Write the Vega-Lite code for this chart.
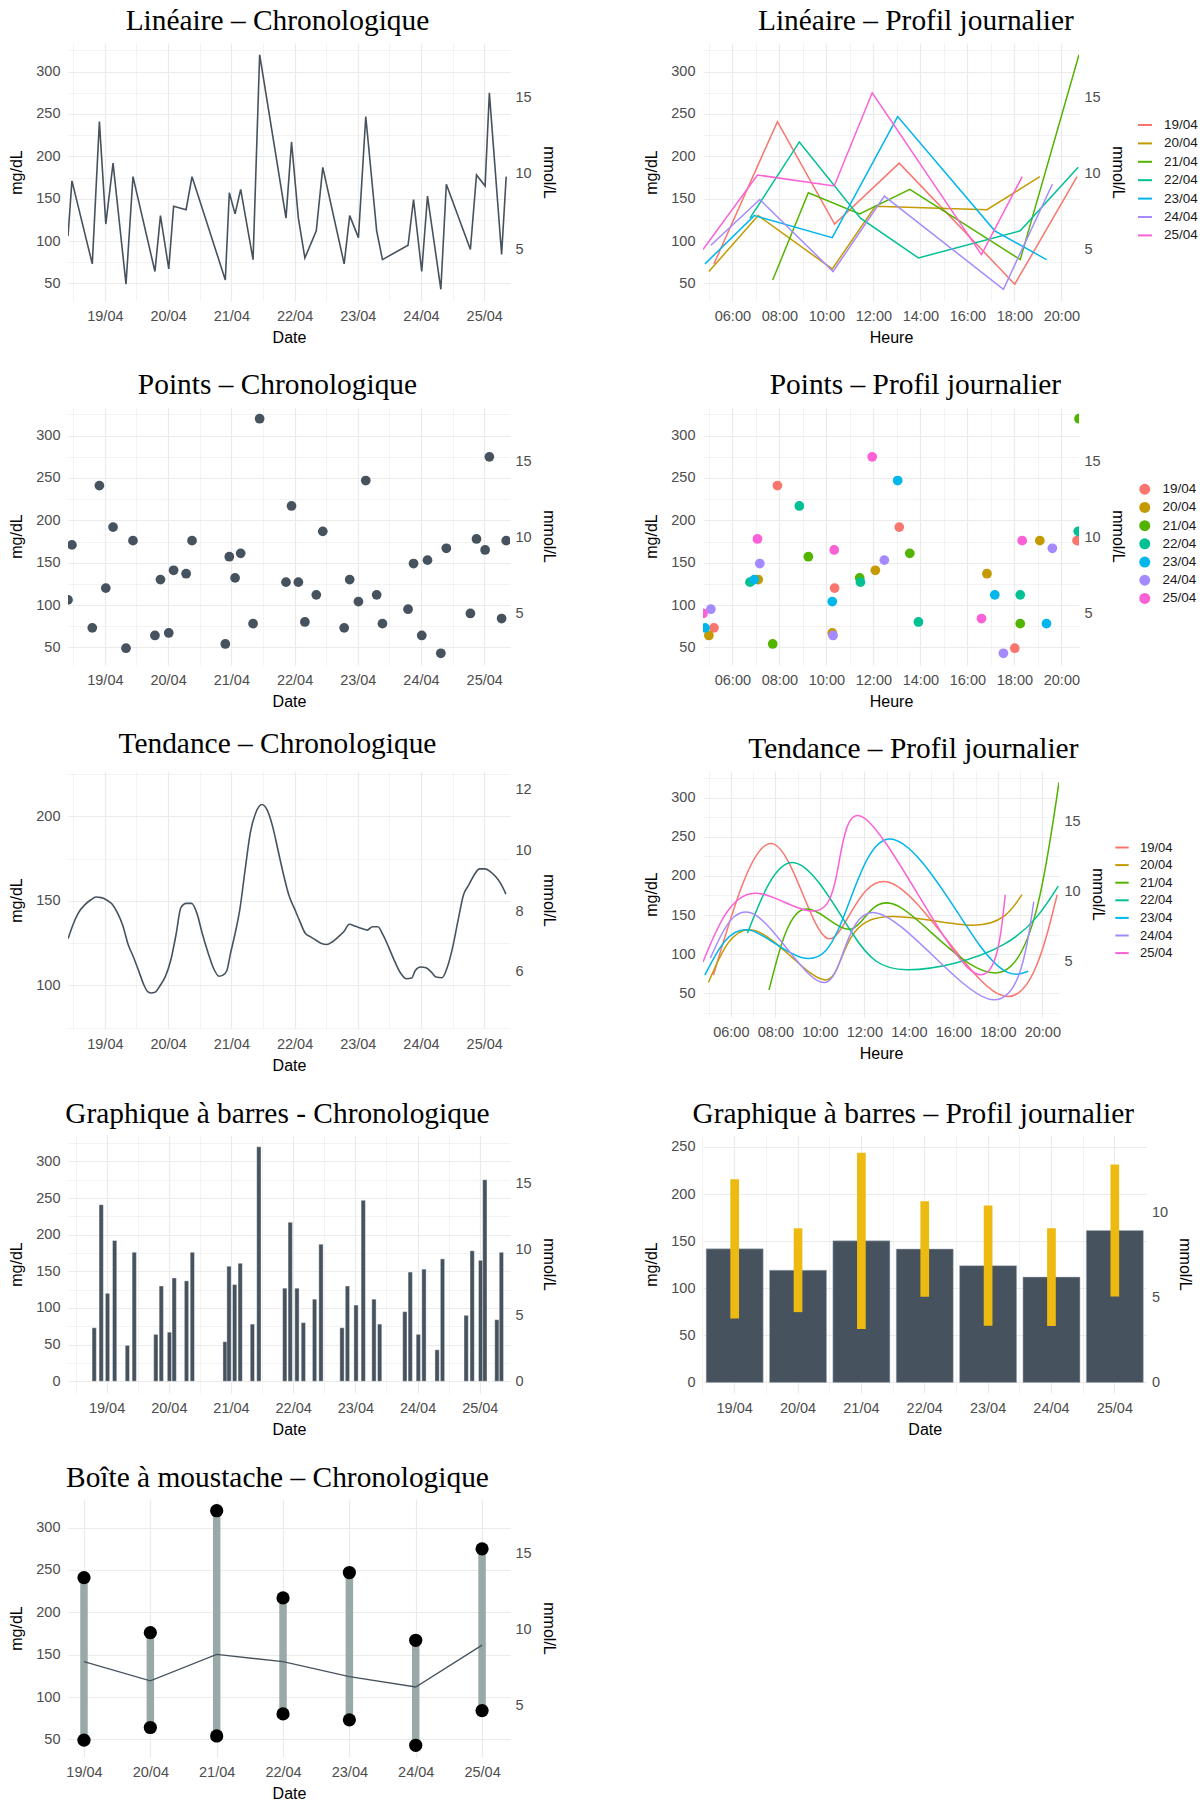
{
"$schema": "https://vega.github.io/schema/vega-lite/v6.json",
"background": "white",
"padding": {"left": 8, "top": 6, "right": 5, "bottom": 5},
"data": {"values": [
{"date":"2024-04-18T20:00:00+10:00","jour":"18/04","heure":"20:00","mgdl":106},
{"date":"2024-04-18T21:30:00+10:00","jour":"18/04","heure":"21:30","mgdl":171},
{"date":"2024-04-19T05:13:00+10:00","jour":"19/04","heure":"05:13","mgdl":73},
{"date":"2024-04-19T07:55:00+10:00","jour":"19/04","heure":"07:55","mgdl":241},
{"date":"2024-04-19T10:21:00+10:00","jour":"19/04","heure":"10:21","mgdl":120},
{"date":"2024-04-19T13:06:00+10:00","jour":"19/04","heure":"13:06","mgdl":192},
{"date":"2024-04-19T18:01:00+10:00","jour":"19/04","heure":"18:01","mgdl":49},
{"date":"2024-04-19T20:40:00+10:00","jour":"19/04","heure":"20:40","mgdl":176},
{"date":"2024-04-20T05:00:00+10:00","jour":"20/04","heure":"05:00","mgdl":64},
{"date":"2024-04-20T07:06:00+10:00","jour":"20/04","heure":"07:06","mgdl":130},
{"date":"2024-04-20T10:15:00+10:00","jour":"20/04","heure":"10:15","mgdl":67},
{"date":"2024-04-20T12:05:00+10:00","jour":"20/04","heure":"12:05","mgdl":141},
{"date":"2024-04-20T16:50:00+10:00","jour":"20/04","heure":"16:50","mgdl":137},
{"date":"2024-04-20T19:05:00+10:00","jour":"20/04","heure":"19:05","mgdl":176},
{"date":"2024-04-21T07:43:00+10:00","jour":"21/04","heure":"07:43","mgdl":54},
{"date":"2024-04-21T09:14:00+10:00","jour":"21/04","heure":"09:14","mgdl":157},
{"date":"2024-04-21T11:25:00+10:00","jour":"21/04","heure":"11:25","mgdl":132},
{"date":"2024-04-21T13:33:00+10:00","jour":"21/04","heure":"13:33","mgdl":161},
{"date":"2024-04-21T18:15:00+10:00","jour":"21/04","heure":"18:15","mgdl":78},
{"date":"2024-04-21T20:45:00+10:00","jour":"21/04","heure":"20:45","mgdl":320},
{"date":"2024-04-22T06:45:00+10:00","jour":"22/04","heure":"06:45","mgdl":127},
{"date":"2024-04-22T08:51:00+10:00","jour":"22/04","heure":"08:51","mgdl":217},
{"date":"2024-04-22T11:27:00+10:00","jour":"22/04","heure":"11:27","mgdl":127},
{"date":"2024-04-22T13:55:00+10:00","jour":"22/04","heure":"13:55","mgdl":80},
{"date":"2024-04-22T18:15:00+10:00","jour":"22/04","heure":"18:15","mgdl":112},
{"date":"2024-04-22T20:43:00+10:00","jour":"22/04","heure":"20:43","mgdl":187},
{"date":"2024-04-23T04:50:00+10:00","jour":"23/04","heure":"04:50","mgdl":73},
{"date":"2024-04-23T06:56:00+10:00","jour":"23/04","heure":"06:56","mgdl":130},
{"date":"2024-04-23T10:15:00+10:00","jour":"23/04","heure":"10:15","mgdl":104},
{"date":"2024-04-23T13:02:00+10:00","jour":"23/04","heure":"13:02","mgdl":247},
{"date":"2024-04-23T17:10:00+10:00","jour":"23/04","heure":"17:10","mgdl":112},
{"date":"2024-04-23T19:22:00+10:00","jour":"23/04","heure":"19:22","mgdl":78},
{"date":"2024-04-24T05:05:00+10:00","jour":"24/04","heure":"05:05","mgdl":95},
{"date":"2024-04-24T07:10:00+10:00","jour":"24/04","heure":"07:10","mgdl":149},
{"date":"2024-04-24T10:17:00+10:00","jour":"24/04","heure":"10:17","mgdl":64},
{"date":"2024-04-24T12:28:00+10:00","jour":"24/04","heure":"12:28","mgdl":153},
{"date":"2024-04-24T17:32:00+10:00","jour":"24/04","heure":"17:32","mgdl":43},
{"date":"2024-04-24T19:37:00+10:00","jour":"24/04","heure":"19:37","mgdl":167},
{"date":"2024-04-25T04:45:00+10:00","jour":"25/04","heure":"04:45","mgdl":90},
{"date":"2024-04-25T07:04:00+10:00","jour":"25/04","heure":"07:04","mgdl":178},
{"date":"2024-04-25T10:20:00+10:00","jour":"25/04","heure":"10:20","mgdl":165},
{"date":"2024-04-25T11:57:00+10:00","jour":"25/04","heure":"11:57","mgdl":275},
{"date":"2024-04-25T16:36:00+10:00","jour":"25/04","heure":"16:36","mgdl":84},
{"date":"2024-04-25T18:20:00+10:00","jour":"25/04","heure":"18:20","mgdl":176}
], "format": {"parse": {"date": "date", "heure": "utc:'%H:%M'"}}},
"bounds": "flush",
"columns": 2,
"spacing": {"row": 106, "column": 193},
"resolve": {"scale": {"color": "independent"}, "legend": {"color": "independent"}},
"concat": [
 {"title": "Linéaire – Chronologique", "width": 442, "height": 258,
  "layer": [
   {"mark": {"type": "line", "color": "#46535F", "strokeWidth": 1.6, "clip": true},
    "encoding": {
     "x": {"field": "date", "type": "temporal", "title": "Date", "scale": {"type": "utc", "nice": false, "domain": [{"year":2024,"month":4,"date":18,"hours":10,"utc":true},{"year":2024,"month":4,"date":25,"hours":9,"minutes":47,"utc":true}]},
      "axis": {"values": [{"year":2024,"month":4,"date":18,"hours":12,"utc":true},{"year":2024,"month":4,"date":19,"utc":true},{"year":2024,"month":4,"date":19,"hours":12,"utc":true},{"year":2024,"month":4,"date":20,"utc":true},{"year":2024,"month":4,"date":20,"hours":12,"utc":true},{"year":2024,"month":4,"date":21,"utc":true},{"year":2024,"month":4,"date":21,"hours":12,"utc":true},{"year":2024,"month":4,"date":22,"utc":true},{"year":2024,"month":4,"date":22,"hours":12,"utc":true},{"year":2024,"month":4,"date":23,"utc":true},{"year":2024,"month":4,"date":23,"hours":12,"utc":true},{"year":2024,"month":4,"date":24,"utc":true},{"year":2024,"month":4,"date":24,"hours":12,"utc":true},{"year":2024,"month":4,"date":25,"utc":true}],
       "labelExpr": "utchours(datum.value) === 0 ? utcFormat(datum.value, '%d/%m') : ''",
       "gridWidth": {"condition": {"test": "utchours(datum.value) !== 0", "value": 0.6}, "value": 1.2}}},
     "y": {"field": "mgdl", "type": "quantitative", "title": "mg/dL", "scale": {"domain": [29.15, 333.85], "nice": false, "zero": false},
      "axis": {"values": [50,75,100,125,150,175,200,225,250,275,300,325], "labelExpr": "datum.value % 50 === 0 ? datum.label : ''",
       "gridWidth": {"condition": {"test": "datum.value % 50 !== 0", "value": 0.6}, "value": 1.2}}}}},
   {"data": {"values": [{}]}, "mark": {"type": "rule", "opacity": 0},
    "encoding": {"y": {"datum": 10, "type": "quantitative", "scale": {"domain": [1.6194, 18.5472], "nice": false, "zero": false},
     "axis": {"orient": "right", "title": "mmol/L", "values": [5, 10, 15], "grid": false}}}}
  ],
  "resolve": {"scale": {"y": "independent"}}},
 {"title": "Linéaire – Profil journalier", "width": 376, "height": 258,
  "transform": [{"filter": "datum.jour !== '18/04'"}],
  "layer": [
   {"mark": {"type": "line", "strokeWidth": 1.5, "clip": true},
    "encoding": {
     "x": {"field": "heure", "type": "temporal", "title": "Heure", "scale": {"type": "utc", "nice": false},
      "axis": {"values": [{"year":1900,"month":1,"date":1,"hours":5,"utc":true},{"year":1900,"month":1,"date":1,"hours":6,"utc":true},{"year":1900,"month":1,"date":1,"hours":7,"utc":true},{"year":1900,"month":1,"date":1,"hours":8,"utc":true},{"year":1900,"month":1,"date":1,"hours":9,"utc":true},{"year":1900,"month":1,"date":1,"hours":10,"utc":true},{"year":1900,"month":1,"date":1,"hours":11,"utc":true},{"year":1900,"month":1,"date":1,"hours":12,"utc":true},{"year":1900,"month":1,"date":1,"hours":13,"utc":true},{"year":1900,"month":1,"date":1,"hours":14,"utc":true},{"year":1900,"month":1,"date":1,"hours":15,"utc":true},{"year":1900,"month":1,"date":1,"hours":16,"utc":true},{"year":1900,"month":1,"date":1,"hours":17,"utc":true},{"year":1900,"month":1,"date":1,"hours":18,"utc":true},{"year":1900,"month":1,"date":1,"hours":19,"utc":true},{"year":1900,"month":1,"date":1,"hours":20,"utc":true}],
       "labelExpr": "utchours(datum.value) % 2 === 0 ? utcFormat(datum.value, '%H:%M') : ''",
       "gridWidth": {"condition": {"test": "utchours(datum.value) % 2 !== 0", "value": 0.6}, "value": 1.2}}},
     "y": {"field": "mgdl", "type": "quantitative", "title": "mg/dL", "scale": {"domain": [29.15, 333.85], "nice": false, "zero": false},
      "axis": {"values": [50,75,100,125,150,175,200,225,250,275,300,325], "labelExpr": "datum.value % 50 === 0 ? datum.label : ''",
       "gridWidth": {"condition": {"test": "datum.value % 50 !== 0", "value": 0.6}, "value": 1.2}}},
     "color": {"field": "jour", "type": "nominal", "scale": {"range": ["#F8766D","#C49A00","#53B400","#00C094","#00B6EB","#A58AFF","#FB61D7"]},
      "legend": {"title": null, "orient": "none", "legendX": 434, "legendY": 74, "symbolType": "stroke", "symbolSize": 196, "symbolStrokeWidth": 2, "rowPadding": 3.4, "labelOffset": 11}}}},
   {"data": {"values": [{}]}, "mark": {"type": "rule", "opacity": 0},
    "encoding": {"y": {"datum": 10, "type": "quantitative", "scale": {"domain": [1.6194, 18.5472], "nice": false, "zero": false},
     "axis": {"orient": "right", "title": "mmol/L", "values": [5, 10, 15], "grid": false}}}}
  ],
  "resolve": {"scale": {"y": "independent"}}},
 {"title": "Points – Chronologique", "width": 442, "height": 258,
  "layer": [
   {"mark": {"type": "circle", "size": 95, "color": "#46535F", "opacity": 1, "clip": true},
    "encoding": {
     "x": {"field": "date", "type": "temporal", "title": "Date", "scale": {"type": "utc", "nice": false, "domain": [{"year":2024,"month":4,"date":18,"hours":10,"utc":true},{"year":2024,"month":4,"date":25,"hours":9,"minutes":47,"utc":true}]},
      "axis": {"values": [{"year":2024,"month":4,"date":18,"hours":12,"utc":true},{"year":2024,"month":4,"date":19,"utc":true},{"year":2024,"month":4,"date":19,"hours":12,"utc":true},{"year":2024,"month":4,"date":20,"utc":true},{"year":2024,"month":4,"date":20,"hours":12,"utc":true},{"year":2024,"month":4,"date":21,"utc":true},{"year":2024,"month":4,"date":21,"hours":12,"utc":true},{"year":2024,"month":4,"date":22,"utc":true},{"year":2024,"month":4,"date":22,"hours":12,"utc":true},{"year":2024,"month":4,"date":23,"utc":true},{"year":2024,"month":4,"date":23,"hours":12,"utc":true},{"year":2024,"month":4,"date":24,"utc":true},{"year":2024,"month":4,"date":24,"hours":12,"utc":true},{"year":2024,"month":4,"date":25,"utc":true}],
       "labelExpr": "utchours(datum.value) === 0 ? utcFormat(datum.value, '%d/%m') : ''",
       "gridWidth": {"condition": {"test": "utchours(datum.value) !== 0", "value": 0.6}, "value": 1.2}}},
     "y": {"field": "mgdl", "type": "quantitative", "title": "mg/dL", "scale": {"domain": [29.15, 333.85], "nice": false, "zero": false},
      "axis": {"values": [50,75,100,125,150,175,200,225,250,275,300,325], "labelExpr": "datum.value % 50 === 0 ? datum.label : ''",
       "gridWidth": {"condition": {"test": "datum.value % 50 !== 0", "value": 0.6}, "value": 1.2}}}}},
   {"data": {"values": [{}]}, "mark": {"type": "rule", "opacity": 0},
    "encoding": {"y": {"datum": 10, "type": "quantitative", "scale": {"domain": [1.6194, 18.5472], "nice": false, "zero": false},
     "axis": {"orient": "right", "title": "mmol/L", "values": [5, 10, 15], "grid": false}}}}
  ],
  "resolve": {"scale": {"y": "independent"}}},
 {"title": "Points – Profil journalier", "width": 376, "height": 258,
  "transform": [{"filter": "datum.jour !== '18/04'"}],
  "layer": [
   {"mark": {"type": "circle", "size": 95, "opacity": 1, "clip": true},
    "encoding": {
     "x": {"field": "heure", "type": "temporal", "title": "Heure", "scale": {"type": "utc", "nice": false},
      "axis": {"values": [{"year":1900,"month":1,"date":1,"hours":5,"utc":true},{"year":1900,"month":1,"date":1,"hours":6,"utc":true},{"year":1900,"month":1,"date":1,"hours":7,"utc":true},{"year":1900,"month":1,"date":1,"hours":8,"utc":true},{"year":1900,"month":1,"date":1,"hours":9,"utc":true},{"year":1900,"month":1,"date":1,"hours":10,"utc":true},{"year":1900,"month":1,"date":1,"hours":11,"utc":true},{"year":1900,"month":1,"date":1,"hours":12,"utc":true},{"year":1900,"month":1,"date":1,"hours":13,"utc":true},{"year":1900,"month":1,"date":1,"hours":14,"utc":true},{"year":1900,"month":1,"date":1,"hours":15,"utc":true},{"year":1900,"month":1,"date":1,"hours":16,"utc":true},{"year":1900,"month":1,"date":1,"hours":17,"utc":true},{"year":1900,"month":1,"date":1,"hours":18,"utc":true},{"year":1900,"month":1,"date":1,"hours":19,"utc":true},{"year":1900,"month":1,"date":1,"hours":20,"utc":true}],
       "labelExpr": "utchours(datum.value) % 2 === 0 ? utcFormat(datum.value, '%H:%M') : ''",
       "gridWidth": {"condition": {"test": "utchours(datum.value) % 2 !== 0", "value": 0.6}, "value": 1.2}}},
     "y": {"field": "mgdl", "type": "quantitative", "title": "mg/dL", "scale": {"domain": [29.15, 333.85], "nice": false, "zero": false},
      "axis": {"values": [50,75,100,125,150,175,200,225,250,275,300,325], "labelExpr": "datum.value % 50 === 0 ? datum.label : ''",
       "gridWidth": {"condition": {"test": "datum.value % 50 !== 0", "value": 0.6}, "value": 1.2}}},
     "color": {"field": "jour", "type": "nominal", "scale": {"range": ["#F8766D","#C49A00","#53B400","#00C094","#00B6EB","#A58AFF","#FB61D7"]},
      "legend": {"title": null, "orient": "none", "legendX": 435, "legendY": 75.5, "symbolType": "circle", "symbolSize": 120, "rowPadding": 3.2, "labelOffset": 11}}}},
   {"data": {"values": [{}]}, "mark": {"type": "rule", "opacity": 0},
    "encoding": {"y": {"datum": 10, "type": "quantitative", "scale": {"domain": [1.6194, 18.5472], "nice": false, "zero": false},
     "axis": {"orient": "right", "title": "mmol/L", "values": [5, 10, 15], "grid": false}}}}
  ],
  "resolve": {"scale": {"y": "independent"}}},
 {"title": "Tendance – Chronologique", "width": 442, "height": 258,
  "data": {"values": [
{"date":"2024-04-18T10:03Z","mgdl":127.7},{"date":"2024-04-18T11:49Z","mgdl":135.6},{"date":"2024-04-18T13:50Z","mgdl":142.6},{"date":"2024-04-18T16:33Z","mgdl":147.9},
{"date":"2024-04-18T18:35Z","mgdl":150.5},{"date":"2024-04-18T20:37Z","mgdl":152.3},{"date":"2024-04-18T22:39Z","mgdl":151.9},{"date":"2024-04-19T00:41Z","mgdl":150.5},
{"date":"2024-04-19T02:43Z","mgdl":148.1},{"date":"2024-04-19T04:44Z","mgdl":143.0},{"date":"2024-04-19T06:46Z","mgdl":135.6},{"date":"2024-04-19T08:48Z","mgdl":124.4},
{"date":"2024-04-19T10:50Z","mgdl":116.8},{"date":"2024-04-19T12:52Z","mgdl":108.5},{"date":"2024-04-19T14:54Z","mgdl":100.0},{"date":"2024-04-19T16:15Z","mgdl":96.4},
{"date":"2024-04-19T17:36Z","mgdl":95.6},{"date":"2024-04-19T18:58Z","mgdl":96.0},{"date":"2024-04-19T20:59Z","mgdl":100.0},{"date":"2024-04-19T23:01Z","mgdl":105.5},
{"date":"2024-04-20T01:03Z","mgdl":115.2},{"date":"2024-04-20T03:05Z","mgdl":130.7},{"date":"2024-04-20T04:51Z","mgdl":146.0},{"date":"2024-04-20T06:53Z","mgdl":148.5},
{"date":"2024-04-20T08:55Z","mgdl":148.5},{"date":"2024-04-20T10:57Z","mgdl":142.6},{"date":"2024-04-20T12:58Z","mgdl":130.7},{"date":"2024-04-20T15:17Z","mgdl":118.8},
{"date":"2024-04-20T17:19Z","mgdl":109.9},{"date":"2024-04-20T19:20Z","mgdl":105.5},{"date":"2024-04-20T20:58Z","mgdl":106.3},{"date":"2024-04-20T22:19Z","mgdl":108.9},
{"date":"2024-04-20T23:40Z","mgdl":118.8},{"date":"2024-04-21T01:26Z","mgdl":130.7},{"date":"2024-04-21T03:12Z","mgdl":144.6},{"date":"2024-04-21T05:14Z","mgdl":168.3},
{"date":"2024-04-21T07:16Z","mgdl":190.7},{"date":"2024-04-21T09:17Z","mgdl":202.0},{"date":"2024-04-21T11:35Z","mgdl":206.9},{"date":"2024-04-21T13:38Z","mgdl":203.6},
{"date":"2024-04-21T15:40Z","mgdl":194.0},{"date":"2024-04-21T17:41Z","mgdl":180.2},{"date":"2024-04-21T19:59Z","mgdl":164.4},{"date":"2024-04-21T22:01Z","mgdl":152.5},
{"date":"2024-04-22T00:03Z","mgdl":145.1},{"date":"2024-04-22T02:05Z","mgdl":137.6},{"date":"2024-04-22T04:07Z","mgdl":130.7},{"date":"2024-04-22T06:09Z","mgdl":128.7},
{"date":"2024-04-22T08:11Z","mgdl":126.7},{"date":"2024-04-22T10:13Z","mgdl":124.8},{"date":"2024-04-22T12:14Z","mgdl":124.2},{"date":"2024-04-22T14:17Z","mgdl":125.7},
{"date":"2024-04-22T16:19Z","mgdl":128.3},{"date":"2024-04-22T18:44Z","mgdl":131.9},{"date":"2024-04-22T20:47Z","mgdl":136.2},{"date":"2024-04-22T23:05Z","mgdl":135.0},
{"date":"2024-04-23T01:31Z","mgdl":133.7},{"date":"2024-04-23T03:33Z","mgdl":132.7},{"date":"2024-04-23T05:35Z","mgdl":134.7},{"date":"2024-04-23T07:37Z","mgdl":134.7},
{"date":"2024-04-23T09:38Z","mgdl":129.7},{"date":"2024-04-23T11:57Z","mgdl":121.8},{"date":"2024-04-23T14:07Z","mgdl":113.9},{"date":"2024-04-23T16:25Z","mgdl":106.9},
{"date":"2024-04-23T18:27Z","mgdl":104.0},{"date":"2024-04-23T20:29Z","mgdl":104.4},{"date":"2024-04-23T21:50Z","mgdl":108.9},{"date":"2024-04-23T23:52Z","mgdl":110.9},
{"date":"2024-04-24T01:54Z","mgdl":110.5},{"date":"2024-04-24T03:56Z","mgdl":107.9},{"date":"2024-04-24T05:41Z","mgdl":105.0},{"date":"2024-04-24T07:59Z","mgdl":104.6},
{"date":"2024-04-24T10:01Z","mgdl":110.9},{"date":"2024-04-24T12:03Z","mgdl":122.8},{"date":"2024-04-24T14:05Z","mgdl":138.6},{"date":"2024-04-24T16:07Z","mgdl":153.5},
{"date":"2024-04-24T18:09Z","mgdl":159.4},{"date":"2024-04-24T20:11Z","mgdl":165.3},{"date":"2024-04-24T22:13Z","mgdl":168.9},{"date":"2024-04-25T00:14Z","mgdl":168.9},
{"date":"2024-04-25T02:17Z","mgdl":167.3},{"date":"2024-04-25T04:19Z","mgdl":164.4},{"date":"2024-04-25T06:20Z","mgdl":160.0},{"date":"2024-04-25T08:14Z","mgdl":154.0}
  ]},
  "layer": [
   {"mark": {"type": "line", "color": "#46535F", "strokeWidth": 1.6, "interpolate": "monotone", "clip": true},
    "encoding": {
     "x": {"field": "date", "type": "temporal", "title": "Date", "scale": {"type": "utc", "nice": false, "domain": [{"year":2024,"month":4,"date":18,"hours":10,"utc":true},{"year":2024,"month":4,"date":25,"hours":9,"minutes":47,"utc":true}]},
      "axis": {"values": [{"year":2024,"month":4,"date":18,"hours":12,"utc":true},{"year":2024,"month":4,"date":19,"utc":true},{"year":2024,"month":4,"date":19,"hours":12,"utc":true},{"year":2024,"month":4,"date":20,"utc":true},{"year":2024,"month":4,"date":20,"hours":12,"utc":true},{"year":2024,"month":4,"date":21,"utc":true},{"year":2024,"month":4,"date":21,"hours":12,"utc":true},{"year":2024,"month":4,"date":22,"utc":true},{"year":2024,"month":4,"date":22,"hours":12,"utc":true},{"year":2024,"month":4,"date":23,"utc":true},{"year":2024,"month":4,"date":23,"hours":12,"utc":true},{"year":2024,"month":4,"date":24,"utc":true},{"year":2024,"month":4,"date":24,"hours":12,"utc":true},{"year":2024,"month":4,"date":25,"utc":true}],
       "labelExpr": "utchours(datum.value) === 0 ? utcFormat(datum.value, '%d/%m') : ''",
       "gridWidth": {"condition": {"test": "utchours(datum.value) !== 0", "value": 0.6}, "value": 1.2}}},
     "y": {"field": "mgdl", "type": "quantitative", "title": "mg/dL", "scale": {"domain": [74.3, 226.7], "nice": false, "zero": false},
      "axis": {"values": [75,100,125,150,175,200,225], "labelExpr": "datum.value % 50 === 0 ? datum.label : ''",
       "gridWidth": {"condition": {"test": "datum.value % 50 !== 0", "value": 0.6}, "value": 1.2}}}}},
   {"data": {"values": [{}]}, "mark": {"type": "rule", "opacity": 0},
    "encoding": {"y": {"datum": 10, "type": "quantitative", "scale": {"domain": [4.1278, 12.5944], "nice": false, "zero": false},
     "axis": {"orient": "right", "title": "mmol/L", "values": [6, 8, 10, 12], "grid": false}}}}
  ],
  "resolve": {"scale": {"y": "independent"}}},
 {"title": {"text": "Tendance – Profil journalier", "dx": 5}, "width": 356, "height": 246,
  "transform": [{"filter": "datum.jour !== '18/04'"}],
  "layer": [
   {"mark": {"type": "line", "strokeWidth": 1.5, "interpolate": "natural", "clip": true},
    "encoding": {
     "x": {"field": "heure", "type": "temporal", "title": "Heure", "scale": {"type": "utc", "nice": false},
      "axis": {"values": [{"year":1900,"month":1,"date":1,"hours":5,"utc":true},{"year":1900,"month":1,"date":1,"hours":6,"utc":true},{"year":1900,"month":1,"date":1,"hours":7,"utc":true},{"year":1900,"month":1,"date":1,"hours":8,"utc":true},{"year":1900,"month":1,"date":1,"hours":9,"utc":true},{"year":1900,"month":1,"date":1,"hours":10,"utc":true},{"year":1900,"month":1,"date":1,"hours":11,"utc":true},{"year":1900,"month":1,"date":1,"hours":12,"utc":true},{"year":1900,"month":1,"date":1,"hours":13,"utc":true},{"year":1900,"month":1,"date":1,"hours":14,"utc":true},{"year":1900,"month":1,"date":1,"hours":15,"utc":true},{"year":1900,"month":1,"date":1,"hours":16,"utc":true},{"year":1900,"month":1,"date":1,"hours":17,"utc":true},{"year":1900,"month":1,"date":1,"hours":18,"utc":true},{"year":1900,"month":1,"date":1,"hours":19,"utc":true},{"year":1900,"month":1,"date":1,"hours":20,"utc":true}],
       "labelExpr": "utchours(datum.value) % 2 === 0 ? utcFormat(datum.value, '%H:%M') : ''",
       "gridWidth": {"condition": {"test": "utchours(datum.value) % 2 !== 0", "value": 0.6}, "value": 1.2}}},
     "y": {"field": "mgdl", "type": "quantitative", "title": "mg/dL", "scale": {"domain": [19.5, 334.3], "nice": false, "zero": false},
      "axis": {"values": [25,50,75,100,125,150,175,200,225,250,275,300,325], "labelExpr": "datum.value % 50 === 0 ? datum.label : ''",
       "gridWidth": {"condition": {"test": "datum.value % 50 !== 0", "value": 0.6}, "value": 1.2}}},
     "color": {"field": "jour", "type": "nominal", "scale": {"range": ["#F8766D","#C49A00","#53B400","#00C094","#00B6EB","#A58AFF","#FB61D7"]},
      "legend": {"title": null, "orient": "none", "legendX": 411, "legendY": 68.5, "symbolType": "stroke", "symbolSize": 180, "symbolStrokeWidth": 2, "labelFontSize": 13, "rowPadding": 2.6, "labelOffset": 10}}}},
   {"data": {"values": [{}]}, "mark": {"type": "rule", "opacity": 0},
    "encoding": {"y": {"datum": 10, "type": "quantitative", "scale": {"domain": [1.0833, 18.5722], "nice": false, "zero": false},
     "axis": {"orient": "right", "title": "mmol/L", "values": [5, 10, 15], "grid": false}}}}
  ],
  "resolve": {"scale": {"y": "independent"}}},
 {"title": "Graphique à barres - Chronologique", "width": 442, "height": 258,
  "transform": [{"filter": "datum.jour !== '18/04'"}],
  "layer": [
   {"mark": {"type": "bar", "width": 4.3, "color": "#46535F", "stroke": "#FFFFFF", "strokeWidth": 0.4, "clip": true},
    "encoding": {
     "x": {"field": "date", "type": "temporal", "title": "Date", "scale": {"type": "utc", "nice": false, "domain": [{"year":2024,"month":4,"date":18,"hours":11,"minutes":2,"utc":true},{"year":2024,"month":4,"date":25,"hours":9,"minutes":44,"utc":true}]},
      "axis": {"values": [{"year":2024,"month":4,"date":18,"hours":12,"utc":true},{"year":2024,"month":4,"date":19,"utc":true},{"year":2024,"month":4,"date":19,"hours":12,"utc":true},{"year":2024,"month":4,"date":20,"utc":true},{"year":2024,"month":4,"date":20,"hours":12,"utc":true},{"year":2024,"month":4,"date":21,"utc":true},{"year":2024,"month":4,"date":21,"hours":12,"utc":true},{"year":2024,"month":4,"date":22,"utc":true},{"year":2024,"month":4,"date":22,"hours":12,"utc":true},{"year":2024,"month":4,"date":23,"utc":true},{"year":2024,"month":4,"date":23,"hours":12,"utc":true},{"year":2024,"month":4,"date":24,"utc":true},{"year":2024,"month":4,"date":24,"hours":12,"utc":true},{"year":2024,"month":4,"date":25,"utc":true}],
       "labelExpr": "utchours(datum.value) === 0 ? utcFormat(datum.value, '%d/%m') : ''",
       "gridWidth": {"condition": {"test": "utchours(datum.value) !== 0", "value": 0.6}, "value": 1.2}}},
     "y": {"field": "mgdl", "type": "quantitative", "title": "mg/dL", "scale": {"domain": [-16, 336], "nice": false, "zero": false},
      "axis": {"values": [0,25,50,75,100,125,150,175,200,225,250,275,300,325], "labelExpr": "datum.value % 50 === 0 ? datum.label : ''",
       "gridWidth": {"condition": {"test": "datum.value % 50 !== 0", "value": 0.6}, "value": 1.2}}}}},
   {"data": {"values": [{}]}, "mark": {"type": "rule", "opacity": 0},
    "encoding": {"y": {"datum": 10, "type": "quantitative", "scale": {"domain": [-0.8889, 18.6667], "nice": false, "zero": false},
     "axis": {"orient": "right", "title": "mmol/L", "values": [0, 5, 10, 15], "grid": false}}}}
  ],
  "resolve": {"scale": {"y": "independent"}}},
 {"title": "Graphique à barres – Profil journalier", "width": 443.5, "height": 258,
  "transform": [{"filter": "datum.jour !== '18/04'"}],
  "layer": [
   {"layer": [
     {"mark": {"type": "bar", "color": "#46535F", "stroke": "#A9B1B8", "strokeWidth": 0.5},
      "encoding": {
       "x": {"field": "jour", "type": "nominal", "title": "Date", "axis": {"labelAngle": 0, "grid": true, "bandPosition": 0.5, "gridWidth": 1.2}},
       "y": {"aggregate": "mean", "field": "mgdl", "type": "quantitative", "title": "mg/dL", "scale": {"domain": [-11.2, 262.7], "nice": false, "zero": false},
        "axis": {"values": [0,25,50,75,100,125,150,175,200,225,250], "labelExpr": "datum.value % 50 === 0 ? datum.label : ''",
         "gridWidth": {"condition": {"test": "datum.value % 50 !== 0", "value": 0.6}, "value": 1.2}}}}},
     {"mark": {"type": "errorbar", "extent": "stdev", "thickness": 8.7, "color": "#EDBA12"},
      "encoding": {
       "x": {"field": "jour", "type": "nominal", "axis": {"orient": "top", "labels": false, "title": null, "grid": true, "bandPosition": -0.0556, "gridWidth": 0.6}},
       "y": {"field": "mgdl", "type": "quantitative", "title": "mg/dL"}}}
    ],
    "resolve": {"axis": {"x": "independent"}}},
   {"data": {"values": [{}]}, "mark": {"type": "rule", "opacity": 0},
    "encoding": {"y": {"datum": 5, "type": "quantitative", "scale": {"domain": [-0.6222, 14.5944], "nice": false, "zero": false},
     "axis": {"orient": "right", "title": "mmol/L", "values": [0, 5, 10], "grid": false}}}}
  ],
  "resolve": {"scale": {"y": "independent"}}},
 {"title": "Boîte à moustache – Chronologique", "width": 442, "height": 258,
  "transform": [{"filter": "datum.jour !== '18/04'"}],
  "layer": [
   {"encoding": {"x": {"field": "jour", "type": "ordinal", "title": "Date", "scale": {"type": "point", "padding": 0.331, "align": 0.364}, "axis": {"labelAngle": 0, "grid": true, "gridWidth": 1.2}}},
    "layer": [
     {"mark": {"type": "rule", "strokeWidth": 7.5, "color": "#99A9A7"},
      "encoding": {"y": {"aggregate": "min", "field": "mgdl", "type": "quantitative", "title": "mg/dL", "scale": {"domain": [29.15, 333.85], "nice": false, "zero": false},
       "axis": {"values": [50,75,100,125,150,175,200,225,250,275,300,325], "labelExpr": "datum.value % 50 === 0 ? datum.label : ''",
        "gridWidth": {"condition": {"test": "datum.value % 50 !== 0", "value": 0.6}, "value": 1.2}}},
       "y2": {"aggregate": "max", "field": "mgdl"}}},
     {"mark": {"type": "line", "color": "#46535F", "strokeWidth": 1.3},
      "encoding": {"y": {"aggregate": "mean", "field": "mgdl", "type": "quantitative", "title": "mg/dL"}}},
     {"mark": {"type": "circle", "size": 175, "color": "#000000", "opacity": 1},
      "encoding": {"y": {"aggregate": "min", "field": "mgdl", "type": "quantitative", "title": "mg/dL"}}},
     {"mark": {"type": "circle", "size": 175, "color": "#000000", "opacity": 1},
      "encoding": {"y": {"aggregate": "max", "field": "mgdl", "type": "quantitative", "title": "mg/dL"}}}
    ]},
   {"data": {"values": [{}]}, "mark": {"type": "rule", "opacity": 0},
    "encoding": {"y": {"datum": 10, "type": "quantitative", "scale": {"domain": [1.6194, 18.5472], "nice": false, "zero": false},
     "axis": {"orient": "right", "title": "mmol/L", "values": [5, 10, 15], "grid": false}}}}
  ],
  "resolve": {"scale": {"y": "independent"}}}
],
"config": {
 "view": {"stroke": null},
 "font": "Liberation Sans",
 "title": {"font": "Liberation Serif", "fontSize": 29.4, "fontWeight": "normal", "color": "#000000", "anchor": "middle", "frame": "bounds", "baseline": "alphabetic", "offset": 6, "dx": -5},
 "axis": {"labelFont": "Liberation Sans", "labelFontSize": 14.5, "labelColor": "#4D4D4D", "titleFont": "Liberation Sans", "titleFontSize": 16, "titleFontWeight": "normal", "titleColor": "#000000", "domain": false, "ticks": false, "gridColor": "#EBEBEB", "labelOverlap": false, "labelFlush": false},
 "axisLeft": {"labelPadding": 8, "titlePadding": 11},
 "axisRight": {"labelPadding": 5, "titlePadding": 9},
 "axisBottom": {"labelPadding": 8.5, "titlePadding": 6},
 "legend": {"labelFont": "Liberation Sans", "labelFontSize": 13.5, "labelColor": "#1A1A1A", "padding": 0}
}
}
